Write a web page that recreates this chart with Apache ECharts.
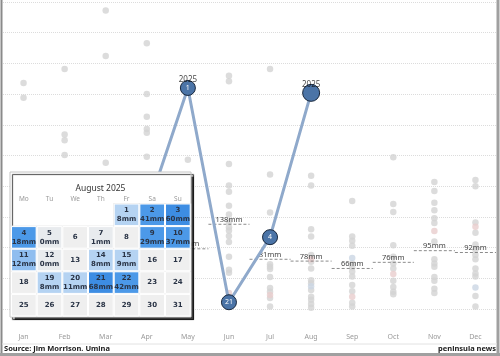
<!DOCTYPE html>
<html>
<head>
<meta charset="utf-8">
<script src="https://cdn.jsdelivr.net/npm/echarts@6/dist/echarts.min.js"></script>
<style>
html,body{margin:0;padding:0;background:#fff;}
#c{width:500px;height:356px;}
</style>
</head>
<body>
<div id="c"></div>
<script>
// ---------- data ----------
const months = ['Jan','Feb','Mar','Apr','May','Jun','Jul','Aug','Sep','Oct','Nov','Dec'];
// historical monthly rainfall (mm), one list per month (visible dots)
const histJan = [368, 344];
const histFeb = [391, 284, 275, 251];
const histMar = [486, 412, 238];
const histApr = [433, 350, 313, 293, 287, 248];
const histMay = [243];
const histJun = [380, 371, 236, 201, 191, 168, 154, 142, 133, 128, 119, 109, 85, 64, 59];
const histJul = [391, 219, 157, 73, 69, 65, 52, 34, 28, 18, 4];
const histAug = [217, 201, 130, 118, 88, 77, 66, 47, 42, 31, 20, 15, 8, 2];
const histSep = [176, 118, 111, 103, 74, 68, 61, 53, 39, 29, 10, 4];
const histOct = [247, 171, 158, 104, 85, 74, 66, 46, 36, 28, 24];
const histNov = [207, 192, 173, 161, 148, 140, 110, 81, 74, 69, 52, 46, 33, 26];
const histDec = [210, 200, 141, 124, 105, 97, 88, 81, 66, 58, 53, 21, 4];
// faintly highlighted years
const pinkValues = [null, null, null, null, null, 26, 23, 81, 20, 57, 127, 134];
const blueValues = [null, null, null, null, null, null, null, 37, 83, null, null, 35];
// monthly means (mm)
const meanValues = [null, null, null, null, 98, 138, 81, 78, 66, 76, 95, 92];
// 2025
const values2025 = [null, null, null, 160, 360, 11, 117, 352, null, null, null, null];
const ranks2025 = [null, null, null, null, 1, 21, 4, null, null, null, null, null];
const yearLabelMonths = ['May', 'Aug'];
// August 2025 daily rainfall
const rainDays = [1, 2, 3, 4, 5, 7, 9, 10, 11, 12, 14, 15, 19, 20, 21, 22];
const rainMm   = [8, 41, 60, 18, 0, 1, 29, 37, 12, 0, 8, 9, 8, 11, 68, 42];

// ---------- build ----------
const hist = [histJan, histFeb, histMar, histApr, histMay, histJun, histJul, histAug, histSep, histOct, histNov, histDec];
const grayData = [];
hist.forEach((arr, i) => arr.forEach(v => grayData.push([i, v])));
const pinkData = [], blueData = [], meanData = [];
pinkValues.forEach((v, i) => { if (v != null) pinkData.push([i, v]); });
blueValues.forEach((v, i) => { if (v != null) blueData.push([i, v]); });
meanValues.forEach((v, i) => { if (v != null) meanData.push([i, v]); });
const lastIdx = 7;
const lineData = values2025.map((v, i) => {
  if (v == null) return null;
  return { value: v, symbolSize: i === lastIdx ? 17 : 15, rank: ranks2025[i] };
});
const yearLabelData = yearLabelMonths.map(m => { const i = months.indexOf(m); return [i, values2025[i]]; });
const calData = [];
for (let d = 1; d <= 31; d++) {
  const k = rainDays.indexOf(d);
  calData.push(['2025-08-' + (d < 10 ? '0' + d : d), k >= 0 ? rainMm[k] : -1]);
}

const chart = echarts.init(document.getElementById('c'), null, { renderer: 'canvas' });
const FONT = 'Noto Sans';
chart.setOption({
  animation: false,
  backgroundColor: '#fff',
  textStyle: { fontFamily: FONT },
  grid: { left: 3, right: 4, top: 2, bottom: 47 },
  xAxis: {
    type: 'category', data: months, boundaryGap: true,
    axisLine: { show: false }, axisTick: { show: false },
    axisLabel: { color: '#9a9a9a', fontSize: 7, margin: 24, fontFamily: FONT }
  },
  yAxis: {
    type: 'value', min: 0, max: 500, interval: 50,
    axisLine: { show: false }, axisTick: { show: false }, axisLabel: { show: false },
    splitLine: { lineStyle: { color: '#dcdcdc', type: 'dotted', width: 1 } }
  },
  calendar: {
    orient: 'vertical', range: '2025-08', left: 11, top: 203.5, cellSize: [25.67, 22.6],
    z: 10,
    splitLine: { show: false },
    itemStyle: { color: '#fff', borderColor: '#e6e6e6', borderWidth: 1 },
    dayLabel: { firstDay: 1, position: 'start', margin: 1, nameMap: ['Su','Mo','Tu','We','Th','Fr','Sa'], color: '#999', fontSize: 6.5, fontFamily: FONT },
    monthLabel: { show: false },
    yearLabel: { show: false }
  },
  visualMap: {
    type: 'piecewise', show: false, seriesIndex: 6, dimension: 1,
    pieces: [
      { lt: 0, color: '#efefef' },
      { gte: 0, lt: 2, color: '#e8ebee' },
      { gte: 2, lt: 11.5, color: '#b5d3f2' },
      { gte: 11.5, lt: 15, color: '#8fbdef' },
      { gte: 15, lt: 55, color: '#4c99e8' },
      { gte: 55, color: '#3d8de3' }
    ]
  },
  series: [
    { type: 'scatter', data: grayData, symbolSize: 6.5, itemStyle: { color: '#d3d3d3' }, z: 2, silent: true },
    { type: 'scatter', data: pinkData, symbolSize: 6.5, itemStyle: { color: '#e8cdcd' }, z: 2, silent: true },
    { type: 'scatter', data: blueData, symbolSize: 6.5, itemStyle: { color: '#cad6e3' }, z: 2, silent: true },
    {
      type: 'custom', data: meanData, z: 3, silent: true,
      renderItem: function (params, api) {
        const p = api.coord([api.value(0), api.value(1)]);
        const w = api.size([1, 0])[0];
        return {
          type: 'group',
          children: [
            { type: 'line', shape: { x1: p[0] - w / 2, y1: p[1], x2: p[0] + w / 2, y2: p[1] },
              style: { stroke: '#6e6e6e', lineWidth: 0.8, lineDash: [3, 2] } },
            { type: 'text', x: p[0], y: p[1] - 0.5,
              style: { text: api.value(1) + 'mm', fill: '#444', font: '7.5px "' + FONT + '"', align: 'center', verticalAlign: 'bottom' } }
          ]
        };
      }
    },
    {
      type: 'line', data: lineData, z: 4, connectNulls: false,
      symbol: 'circle',
      lineStyle: { color: '#8fa9cb', width: 3 },
      itemStyle: { color: '#4b74a7', borderColor: '#17263b', borderWidth: 1 },
      label: {
        show: true, position: 'inside', color: '#fff', fontSize: 7, fontFamily: FONT,
        formatter: p => (p.data && p.data.rank != null) ? String(p.data.rank) : ''
      }
    },
    {
      type: 'scatter', data: yearLabelData, z: 6, symbolSize: 15, silent: true,
      itemStyle: { color: 'rgba(0,0,0,0)' },
      label: { show: true, position: 'top', distance: -3, formatter: '2025', color: '#111', fontSize: 8, fontFamily: FONT }
    },
    {
      type: 'heatmap', coordinateSystem: 'calendar', data: calData, z: 11,
      itemStyle: { borderColor: '#fff', borderWidth: 1 },
      label: {
        show: true, color: '#2a3446', fontSize: 7, fontWeight: 'bold', lineHeight: 9, fontFamily: 'DejaVu Sans',
        formatter: function (p) {
          const d = parseInt(p.value[0].slice(8), 10);
          const v = p.value[1];
          return v < 0 ? String(d) : d + '\n' + v + 'mm';
        }
      }
    }
  ],
  graphic: [
    { type: 'rect', z: 9, shape: { x: 10, y: 172, width: 181, height: 145 },
      style: { fill: '#fff', stroke: '#c4c4c4', lineWidth: 1, shadowColor: 'rgba(0,0,0,0.75)', shadowOffsetX: 2.5, shadowOffsetY: 2.5, shadowBlur: 1 } },
    { type: 'text', z: 12, x: 100.5, y: 189,
      style: { text: 'August 2025', fill: '#333', font: '8.5px "' + FONT + '"', align: 'center', verticalAlign: 'middle' } },
    // frame
    { type: 'line', z: 20, shape: { x1: 1.5, y1: 0, x2: 1.5, y2: 356 }, style: { stroke: '#8a8a8a', lineWidth: 2 } },
    { type: 'line', z: 20, shape: { x1: 498, y1: 0, x2: 498, y2: 356 }, style: { stroke: '#a0a0a0', lineWidth: 3 } },
    { type: 'line', z: 20, shape: { x1: 0, y1: 354.5, x2: 500, y2: 354.5 }, style: { stroke: '#a0a0a0', lineWidth: 3 } },
    { type: 'line', z: 20, shape: { x1: 2, y1: 344, x2: 497, y2: 344 }, style: { stroke: '#e2e2e2', lineWidth: 1 } },
    { type: 'text', z: 20, x: 4, y: 349,
      style: { text: 'Source: Jim Morrison. Umina', fill: '#1a1a1a', font: 'bold 7.5px "' + FONT + '"', align: 'left', verticalAlign: 'middle' } },
    { type: 'text', z: 20, x: 496, y: 349,
      style: { text: 'peninsula news', fill: '#1a1a1a', font: 'bold 7.5px "' + FONT + '"', align: 'right', verticalAlign: 'middle' } }
  ]
});
</script>
</body>
</html>
